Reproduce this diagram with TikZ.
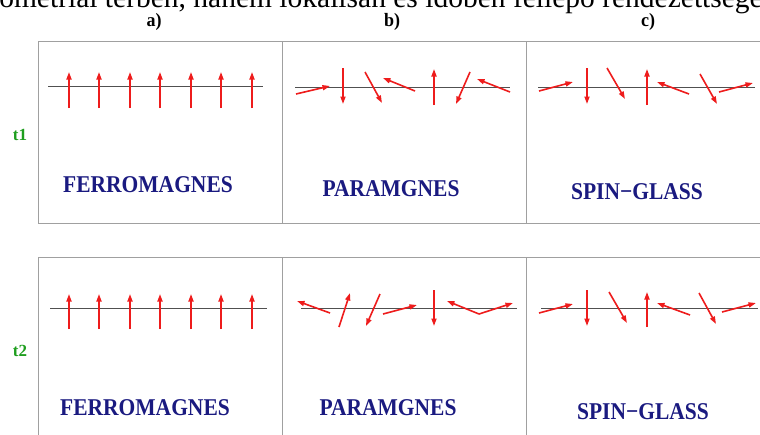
\documentclass[tikz,border=0pt]{standalone}
\usepackage{fontspec}
\setmainfont{Liberation Serif}
\usetikzlibrary{arrows.meta}
\definecolor{spinred}{HTML}{EE1C1C}
\definecolor{labblue}{HTML}{1A1A80}
\definecolor{tgreen}{HTML}{1E9E1E}
\definecolor{boxgray}{HTML}{A0A0A0}
\definecolor{axisgray}{HTML}{505050}
\newcommand{\tallbox}[2]{\scalebox{1}[#1]{#2}}
\begin{document}
\begin{tikzpicture}[x=1pt,y=-1pt,
 spin/.style={draw=spinred, line width=1.6pt, -{Triangle[length=7.5pt,width=5pt]}},
 axisline/.style={draw=axisgray, line width=0.8pt},
 panel/.style={draw=boxgray, line width=1pt},
 phase/.style={font=\fontsize{21.5}{24}\selectfont\bfseries, text=labblue, inner sep=0pt},
 coltitle/.style={font=\fontsize{18}{20}\selectfont\bfseries, inner sep=0pt},
 timelab/.style={font=\fontsize{17}{19}\selectfont\bfseries, text=tgreen, inner sep=0pt}]
\clip (0,0) rectangle (760,434);
\fill[white] (0,0) rectangle (760,434);
\node[font=\fontsize{29.5}{32}\selectfont, anchor=base, inner sep=0pt] (head) at (381,7) {ometriai térben, hanem lokálisan és időben fellépő rendezettsége};
% column titles
\node[coltitle] (ta) at (154,22) {\tallbox{1.05}{a)}};
\node[coltitle] (tb) at (392,22) {\tallbox{1.05}{b)}};
\node[coltitle] (tc) at (648,22) {\tallbox{1.05}{c)}};
% time labels
\node[timelab] (t1) at (20,135) {t1};
\node[timelab] (t2) at (20,351) {t2};
% panels
\draw[panel] (770,41) -- (38,41) -- (38,223) -- (770,223);
\draw[panel] (282,41) -- (282,223);
\draw[panel] (526,41) -- (526,223);
\draw[panel] (770,257) -- (38,257) -- (38,440);
\draw[panel] (282,257) -- (282,440);
\draw[panel] (526,257) -- (526,440);
% axes
\draw[axisline] (48,86) -- (263,86);
\draw[axisline] (295,87) -- (510,87);
\draw[axisline] (538,87) -- (755,87);
\draw[axisline] (50,308) -- (267,308);
\draw[axisline] (301,308) -- (517,308);
\draw[axisline] (541,308) -- (758,308);
% ferromagnet
\foreach \x in {69,99,130,160,191,221,252} {
  \draw[spin] (\x,108) -- (\x,72);
  \draw[spin] (\x,329) -- (\x,294);
}
% paramagnet t1
\draw[spin] (296,94) -- (330,86);
\draw[spin] (343,68) -- (343,104);
\draw[spin] (365,72) -- (382,103);
\draw[spin] (415,91) -- (383,78);
\draw[spin] (434,105) -- (434,69);
\draw[spin] (470,72) -- (456,104);
\draw[spin] (510,92) -- (477,79);
% spin glass t1
\draw[spin] (539,91) -- (573,82);
\draw[spin] (587,68) -- (587,104);
\draw[spin] (607,68) -- (625,99);
\draw[spin] (647,105) -- (647,69);
\draw[spin] (689,94) -- (657,82);
\draw[spin] (700,74) -- (717,104);
\draw[spin] (719,92) -- (753,83);
% paramagnet t2
\draw[spin] (330,313) -- (297,301);
\draw[spin] (339,327) -- (350,293);
\draw[spin] (380,294) -- (366,326);
\draw[spin] (383,314) -- (417,305);
\draw[spin] (434,290) -- (434,326);
\draw[spin] (479,314) -- (447,301);
\draw[spin] (479,314) -- (513,303);
% spin glass t2
\draw[spin] (539,313) -- (573,304);
\draw[spin] (587,290) -- (587,326);
\draw[spin] (609,292) -- (627,323);
\draw[spin] (647,327) -- (647,292);
\draw[spin] (690,315) -- (657,303);
\draw[spin] (699,293) -- (716,324);
\draw[spin] (722,312) -- (756,303);
% phase labels
\node[phase] (fa1) at (148,185) {\tallbox{1.12}{FERROMAGNES}};
\node[phase] (pb1) at (391,189) {\tallbox{1.12}{PARAMGNES}};
\node[phase] (sc1) at (637,192) {\tallbox{1.12}{SPIN−GLASS}};
\node[phase] (fa2) at (145,408) {\tallbox{1.12}{FERROMAGNES}};
\node[phase] (pb2) at (388,408) {\tallbox{1.12}{PARAMGNES}};
\node[phase] (sc2) at (643,412) {\tallbox{1.12}{SPIN−GLASS}};
\end{tikzpicture}
\end{document}
